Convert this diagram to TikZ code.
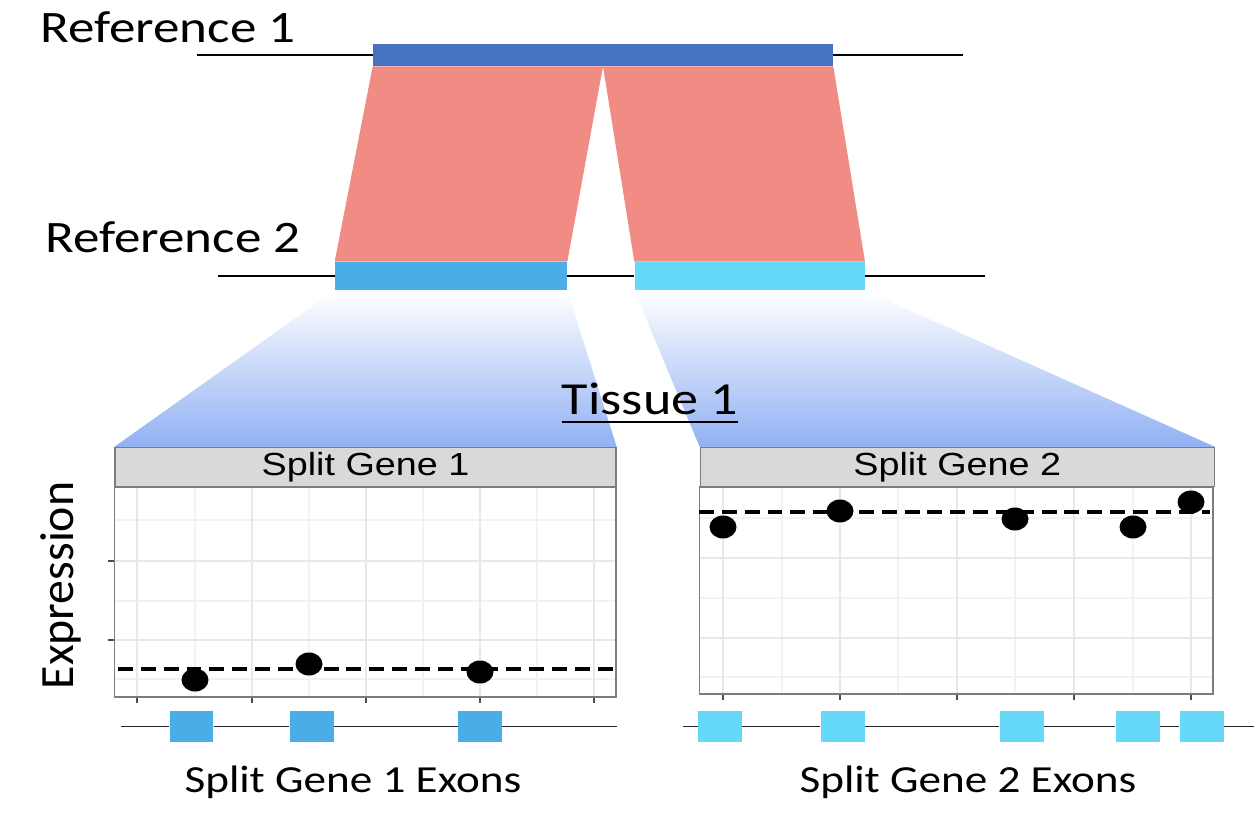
\documentclass[tikz,border=0pt]{standalone}
\usepackage{fontspec}
\setmainfont{Carlito}
\newfontfamily\labelfont[FakeStretch=1.18]{Carlito}
\newfontfamily\stripfont[FakeStretch=1.18]{Liberation Sans}
\usepackage{tikz}
\usetikzlibrary{positioning, backgrounds}
\definecolor{refblue}{RGB}{70,114,196}
\definecolor{exonone}{RGB}{75,173,232}
\definecolor{exontwo}{RGB}{102,217,249}
\definecolor{linkred}{RGB}{240,140,132}
\definecolor{shadeblue}{RGB}{145,177,243}
\definecolor{stripgray}{RGB}{217,217,217}
\definecolor{framegray}{RGB}{125,125,125}
\tikzset{
    refbar/.style={rectangle, inner sep=0pt, fill=refblue, minimum width=9.2cm, minimum height=0.44cm},
    splitbar/.style={rectangle, inner sep=0pt, minimum height=0.56cm},
    strip/.style={rectangle, draw=framegray, fill=stripgray, line width=0.8pt, inner sep=0pt, minimum height=0.78cm, font=\stripfont\fontsize{18.2}{20}\selectfont},
    exonbox/.style={rectangle, inner sep=0pt, minimum width=0.88cm, minimum height=0.62cm},
    biglabel/.style={inner sep=0pt, font=\labelfont\fontsize{25.6}{29}\selectfont},
    exonlabel/.style={inner sep=0pt, font=\labelfont\fontsize{21.8}{24}\selectfont},
    backbone/.style={draw=black, line width=1.4pt},
    track/.style={draw=black!85, line width=0.9pt},
    panel/.style={draw=framegray, line width=0.8pt},
    majorgrid/.style={draw=black!9, line width=0.8pt},
    minorgrid/.style={draw=black!5, line width=0.8pt},
    axistick/.style={draw=black!70, line width=0.8pt},
    meanline/.style={draw=black, line width=2.2pt, dash pattern=on 8.5pt off 4.5pt},
    zoomband/.style={top color=white, bottom color=shadeblue}
}

\begin{document}
\begin{tikzpicture}[x=0.02cm, y=-0.02cm]
    \useasboundingbox (0,0) rectangle (1260,820);

    % Riferimenti
    \node (ref1bar) [refbar] at (603,55) {};
    \node (bar1) [splitbar, fill=exonone, minimum width=4.64cm] at (451,276) {};
    \node (bar2) [splitbar, fill=exontwo, minimum width=4.6cm, right=1.34cm of bar1] {};
    \coordinate (r1a) at (197,55);
    \coordinate (r1b) at (963,55);
    \coordinate (r2a) at (218,276);
    \coordinate (r2b) at (985,276);
    \draw [backbone] (r1a) -- (ref1bar.west);
    \draw [backbone] (ref1bar.east) -- (r1b);
    \draw [backbone] (r2a) -- (bar1.west);
    \draw [backbone] (bar1.east) -- (bar2.west);
    \draw [backbone] (bar2.east) -- (r2b);
    \node (ref1label) [biglabel, anchor=base west] at (40,43) {Reference 1};
    \node (ref2label) [biglabel, anchor=base west] at (45,253) {Reference 2};

    % Bande di allineamento
    \fill [linkred] (ref1bar.south west) -- (ref1bar.south) -- (bar1.north east) -- (bar1.north west) -- cycle;
    \fill [linkred] (ref1bar.south) -- (ref1bar.south east) -- (bar2.north east) -- (bar2.north west) -- cycle;

    % Pannelli
    \node (strip1) [strip, minimum width=10.02cm] at (365.5,467) {Split Gene 1};
    \node (strip2) [strip, minimum width=10.28cm, right=1.66cm of strip1] {Split Gene 2};
    \begin{pgfonlayer}{background}
        \shade [zoomband] (bar1.south west) -- (bar1.south east) -- (strip1.north east) -- (strip1.north west) -- cycle;
        \shade [zoomband] (bar2.south west) -- (bar2.south east) -- (strip2.north east) -- (strip2.north west) -- cycle;
    \end{pgfonlayer}
    \node (tissue) [inner sep=0pt, anchor=base, font=\labelfont\fontsize{26.1}{30}\selectfont] at (650,415) {Tissue 1};
    \draw [line width=1.6pt] ([yshift=-4pt]tissue.base west) -- ([yshift=-4pt]tissue.base east);
    \node (ylabel) [inner sep=0pt, rotate=90, anchor=base, font=\fontsize{27.2}{30}\selectfont] at (73,585.5) {Expression};

    % Griglia pannello 1
    \foreach \gx in {195,309,423,537} \draw [minorgrid] (\gx,488) -- (\gx,697);
    \foreach \gy in {520,601,679} \draw [minorgrid] (115,\gy) -- (616,\gy);
    \foreach \gx in {137,252,366,480,594} {
        \draw [majorgrid] (\gx,488) -- (\gx,697);
        \draw [axistick] (\gx,697) -- (\gx,703);
    }
    \foreach \gy in {561,640} {
        \draw [majorgrid] (115,\gy) -- (616,\gy);
        \draw [axistick] (108,\gy) -- (115,\gy);
    }
    \draw [panel] (strip1.south west) rectangle (616,697);
    \draw [meanline] (118,669) -- (616,669);
    \fill (195,680) ellipse [x radius=0.27cm, y radius=0.23cm];
    \fill (309,664) ellipse [x radius=0.27cm, y radius=0.23cm];
    \fill (480,672) ellipse [x radius=0.27cm, y radius=0.23cm];

    % Griglia pannello 2
    \foreach \gx in {782,898,1015,1133} \draw [minorgrid] (\gx,486) -- (\gx,694);
    \foreach \gy in {518,598,677} \draw [minorgrid] (699,\gy) -- (1213,\gy);
    \foreach \gx in {723,840,957,1074,1191} {
        \draw [majorgrid] (\gx,486) -- (\gx,694);
        \draw [axistick] (\gx,694) -- (\gx,700);
    }
    \foreach \gy in {558,638} \draw [majorgrid] (699,\gy) -- (1213,\gy);
    \draw [panel] (strip2.south west) rectangle (1213,694);
    \draw [meanline] (699,512) -- (1210,512);
    \fill (723,527) ellipse [x radius=0.27cm, y radius=0.23cm];
    \fill (840,511) ellipse [x radius=0.27cm, y radius=0.23cm];
    \fill (1015,519) ellipse [x radius=0.27cm, y radius=0.23cm];
    \fill (1133,527) ellipse [x radius=0.27cm, y radius=0.23cm];
    \fill (1191,502) ellipse [x radius=0.27cm, y radius=0.23cm];

    % Esoni gene 1
    \node (ex11) [exonbox, fill=exonone] at (191.5,726.5) {};
    \node (ex12) [exonbox, fill=exonone] at (311.5,726.5) {};
    \node (ex13) [exonbox, fill=exonone] at (480,726.5) {};
    \coordinate (t1a) at (121,726.5);
    \coordinate (t1b) at (617,726.5);
    \draw [track] (t1a) -- (ex11.west);
    \draw [track] (ex11.east) -- (ex12.west);
    \draw [track] (ex12.east) -- (ex13.west);
    \draw [track] (ex13.east) -- (t1b);
    \node (exlabel1) [exonlabel, anchor=base] at (353,792) {Split Gene 1 Exons};

    % Esoni gene 2
    \node (ex21) [exonbox, fill=exontwo] at (720,726.5) {};
    \node (ex22) [exonbox, fill=exontwo] at (842.5,726.5) {};
    \node (ex23) [exonbox, fill=exontwo] at (1021.5,726.5) {};
    \node (ex24) [exonbox, fill=exontwo] at (1137.5,726.5) {};
    \node (ex25) [exonbox, fill=exontwo] at (1201.5,726.5) {};
    \coordinate (t2a) at (683,726.5);
    \coordinate (t2b) at (1254,726.5);
    \draw [track] (t2a) -- (ex21.west);
    \draw [track] (ex21.east) -- (ex22.west);
    \draw [track] (ex22.east) -- (ex23.west);
    \draw [track] (ex23.east) -- (ex24.west);
    \draw [track] (ex24.east) -- (ex25.west);
    \draw [track] (ex25.east) -- (t2b);
    \node (exlabel2) [exonlabel, anchor=base] at (968,792) {Split Gene 2 Exons};

\end{tikzpicture}
\end{document}
